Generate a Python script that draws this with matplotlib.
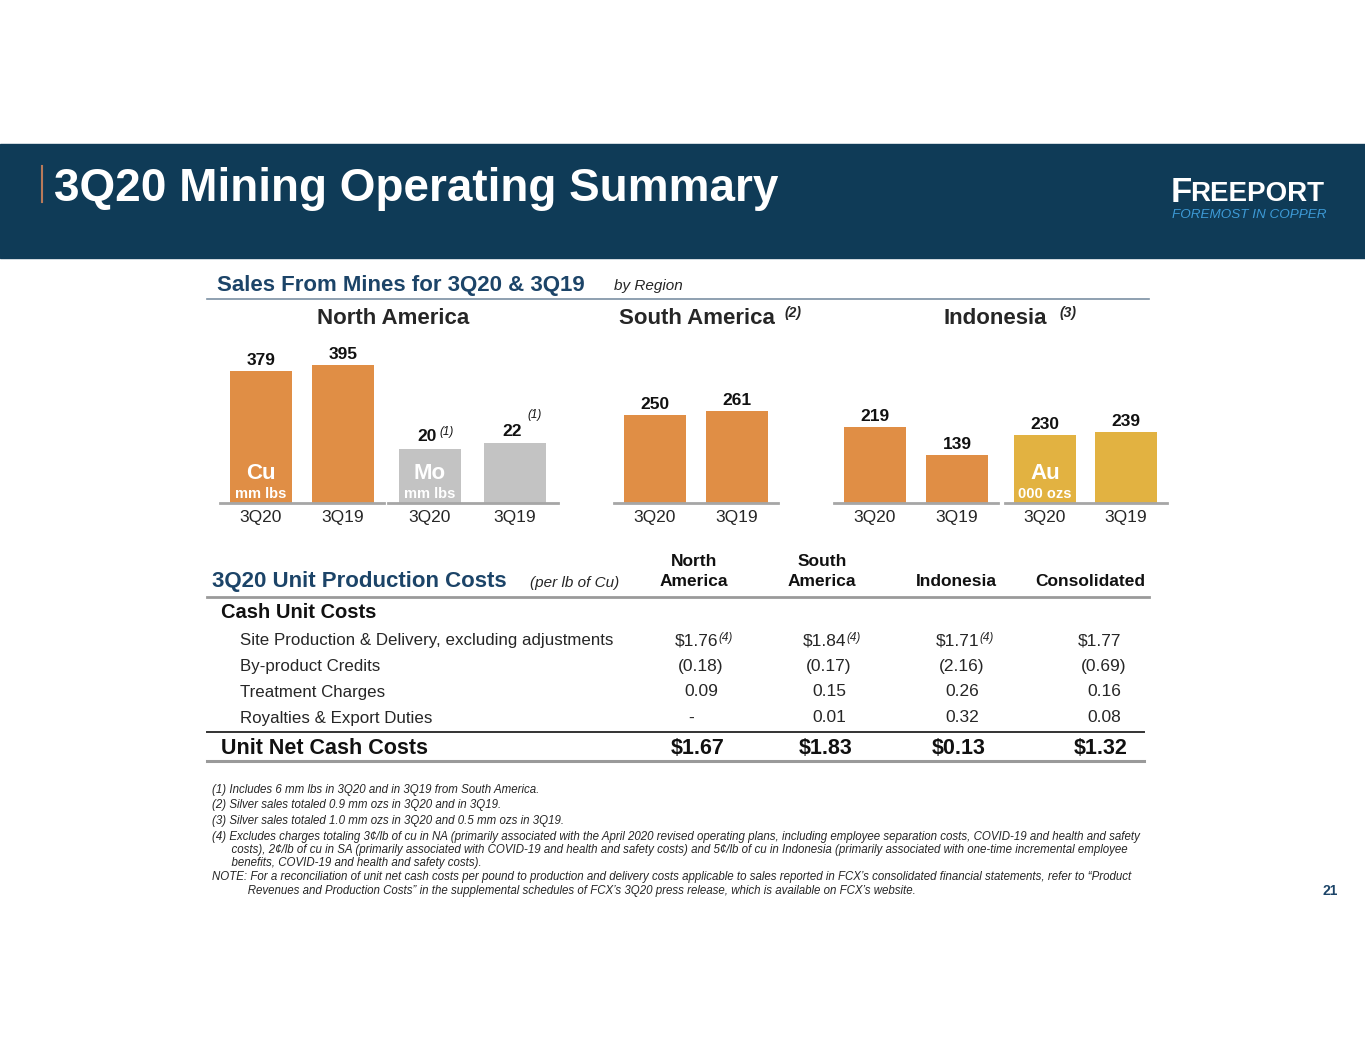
import matplotlib
matplotlib.use("Agg")
import matplotlib.pyplot as plt
from matplotlib.patches import Rectangle
from matplotlib.lines import Line2D

# ---- data ----
periods = ["3Q20", "3Q19"]
na_cu = [379, 395]
na_mo = [20, 22]
sa_cu = [250, 261]
id_cu = [219, 139]
id_au = [230, 239]

cost_cols = ["North\nAmerica", "South\nAmerica", "Indonesia", "Consolidated"]
cost_rows = ["Site Production & Delivery, excluding adjustments",
             "By-product Credits", "Treatment Charges", "Royalties & Export Duties"]
site_prod = [1.76, 1.84, 1.71, 1.77]
byproduct = [-0.18, -0.17, -2.16, -0.69]
treatment = [0.09, 0.15, 0.26, 0.16]
royalties = [0.00, 0.01, 0.32, 0.08]
unit_net = [1.67, 1.83, 0.13, 1.32]
site_note = ["(4)", "(4)", "(4)", ""]

footnotes = [
    "(1) Includes 6 mm lbs in 3Q20 and in 3Q19 from South America.",
    "(2) Silver sales totaled 0.9 mm ozs in 3Q20 and in 3Q19.",
    "(3) Silver sales totaled 1.0 mm ozs in 3Q20 and 0.5 mm ozs in 3Q19.",
    "(4) Excludes charges totaling 3\u00a2/lb of cu in NA (primarily associated with the April 2020 revised operating plans, including employee separation costs, COVID-19 and health and safety",
    "      costs), 2\u00a2/lb of cu in SA (primarily associated with COVID-19 and health and safety costs) and 5\u00a2/lb of cu in Indonesia (primarily associated with one-time incremental employee",
    "      benefits, COVID-19 and health and safety costs).",
    "NOTE: For a reconciliation of unit net cash costs per pound to production and delivery costs applicable to sales reported in FCX\u2019s consolidated financial statements, refer to \u201cProduct",
    "           Revenues and Production Costs\u201d in the supplemental schedules of FCX\u2019s 3Q20 press release, which is available on FCX\u2019s website.",
]

NAVY = "#0f3b57"
BLUE = "#1c4468"
CU = "#e08e45"
MO = "#c3c3c3"
AU = "#e2b241"
TXT = "#262626"

plt.rcParams["font.family"] = ["Liberation Sans", "DejaVu Sans"]

W, H = 1365, 1055
fig = plt.figure(figsize=(W / 100, H / 100), dpi=100)
fig.patch.set_facecolor("white")


def fx(x):
    return x / W


def fy(y):
    return 1 - y / H


def txt(x, y, s, **kw):
    kw.setdefault("va", "center")
    return fig.text(fx(x), fy(y), s, **kw)


def hline(x0, x1, y, color, lw):
    fig.add_artist(Line2D([fx(x0), fx(x1)], [fy(y), fy(y)], color=color, lw=lw,
                          transform=fig.transFigure))


# ---- header band ----
fig.add_artist(Rectangle((0, fy(258)), 1, (258 - 144) / H, color=NAVY,
                         transform=fig.transFigure, zorder=0))
fig.add_artist(Line2D([fx(42), fx(42)], [fy(166), fy(202)], color="#b87a5a", lw=1.5,
                      transform=fig.transFigure))
txt(54, 189, "3Q20 Mining Operating Summary", color="white", fontsize=33,
    fontweight="bold")
txt(1171, 193, "F", color="white", fontsize=25, fontweight="bold")
txt(1190, 194, "REEPORT", color="white", fontsize=20, fontweight="bold")
txt(1172, 215, "FOREMOST IN COPPER", color="#3d9ad6", fontsize=9.7, style="italic")

# ---- sales section ----
txt(217, 285, "Sales From Mines for 3Q20 & 3Q19", color=BLUE, fontsize=16,
    fontweight="bold")
txt(614, 286, "by Region", color=TXT, fontsize=11, style="italic")
hline(207, 1149, 299, "#7b90a3", 1.2)

txt(393, 318, "North America", color=TXT, fontsize=16, fontweight="bold", ha="center")
txt(697, 318, "South America", color=TXT, fontsize=16, fontweight="bold", ha="center")
txt(785, 313, "(2)", color=TXT, fontsize=10, style="italic", fontweight="bold")
txt(995, 318, "Indonesia", color=TXT, fontsize=16, fontweight="bold", ha="center")
txt(1060, 313, "(3)", color=TXT, fontsize=10, style="italic", fontweight="bold")

BASE = 503
TOP = 330


def bar_group(c0, step, vals, color, px_per_unit, labels=True):
    left = c0 - step / 2
    ax = fig.add_axes([fx(left), fy(BASE), 2 * step / W, (BASE - TOP) / H])
    ax.bar([0, 1], vals, width=62 / step, color=color)
    ax.set_xlim(-0.5, 1.5)
    ax.set_ylim(0, (BASE - TOP) / px_per_unit)
    for s in ["top", "right", "left"]:
        ax.spines[s].set_visible(False)
    ax.spines["bottom"].set_color("#a6a6a6")
    ax.spines["bottom"].set_linewidth(2)
    ax.set_yticks([])
    ax.set_xticks([0, 1], periods)
    ax.tick_params(axis="x", length=0, pad=5, labelsize=12.5, labelcolor=TXT)
    ax.patch.set_alpha(0)
    if labels:
        ax.bar_label(ax.containers[0], padding=2, fontsize=12.5, fontweight="bold",
                     color="#111111")
    return ax


def inner_label(ax, big, small):
    ax.annotate(big, xy=(0, 0), xytext=(0, 29 * 0.72), textcoords="offset points",
                ha="center", va="center", color="white", fontsize=16, fontweight="bold")
    ax.annotate(small, xy=(0, 0), xytext=(0, 9 * 0.72), textcoords="offset points",
                ha="center", va="center", color="white", fontsize=10.5, fontweight="bold")


ax1 = bar_group(261, 82, na_cu, CU, 0.349)
inner_label(ax1, "Cu", "mm lbs")
ax2 = bar_group(430, 85, na_mo, MO, 2.72, labels=False)
inner_label(ax2, "Mo", "mm lbs")
for i, v in enumerate(na_mo):
    ax2.annotate(str(v), xy=(i, v), xytext=(-2 if i else -2, 3), textcoords="offset points",
                 ha="center", va="bottom", fontsize=12.5, fontweight="bold", color="#111111")
ax2.annotate("(1)", xy=(0, na_mo[0]), xytext=(12, 12), textcoords="offset points",
             ha="center", va="center", fontsize=8.5, style="italic", color="#111111")
ax2.annotate("(1)", xy=(1, na_mo[1]), xytext=(14, 20), textcoords="offset points",
             ha="center", va="center", fontsize=8.5, style="italic", color="#111111")
ax3 = bar_group(655, 82, sa_cu, CU, 0.352)
ax4 = bar_group(875, 82, id_cu, CU, 0.347)
ax5 = bar_group(1045, 81, id_au, AU, 0.297)
inner_label(ax5, "Au", "000 ozs")

# ---- unit cost table ----
txt(212, 582, "3Q20 Unit Production Costs", color=BLUE, fontsize=16,
    fontweight="bold")
txt(530, 583, "(per lb of Cu)", color=TXT, fontsize=11, style="italic")

col_x = [701, 829, 962, 1104]
head_x = [694, 822, 956, 1090]
for hx, name in zip(head_x, cost_cols):
    lines = name.split("\n")
    for k, ln in enumerate(reversed(lines)):
        txt(hx, 582 - 20 * k, ln, color="#111111", fontsize=12.5, fontweight="bold",
            ha="center")
hline(207, 1149, 597, "#9a9a9a", 2)

txt(221, 613, "Cash Unit Costs", color="#111111", fontsize=14.5, fontweight="bold")


def fmt(v, dollar=False):
    if v == 0:
        return "-"
    s = f"{abs(v):.2f}"
    if dollar:
        s = "$" + s
    return f"({s})" if v < 0 else s


row_y = [641, 667, 692, 718]
row_vals = [site_prod, byproduct, treatment, royalties]
for ry, name, vals in zip(row_y, cost_rows, row_vals):
    txt(240, ry, name, color=TXT, fontsize=12.2)
    for j, (cx, v) in enumerate(zip(col_x, vals)):
        if vals is site_prod:
            txt(cx - 4, ry, fmt(v, True), color=TXT, fontsize=12.5, ha="center")
            if site_note[j]:
                txt(cx + 17, ry - 3, site_note[j], color=TXT, fontsize=8.5,
                    style="italic")
        else:
            txt(cx - (10 if v == 0 else 0), ry, fmt(v), color=TXT, fontsize=12.5,
                ha="center")

hline(207, 1144, 732, "#333333", 1.4)
txt(221, 748, "Unit Net Cash Costs", color="#111111", fontsize=15.5, fontweight="bold")
for cx, v in zip(col_x, unit_net):
    txt(cx - 3, 748, fmt(v, True), color="#111111", fontsize=15.5, fontweight="bold",
        ha="center")
hline(207, 1144, 761, "#9a9a9a", 2.2)

# ---- footnotes ----
foot_y = [790, 805, 821, 837, 850, 863, 877, 891]
for fy_, line in zip(foot_y, footnotes):
    txt(212, fy_, line, color=TXT, fontsize=8.3, style="italic")

txt(1330, 891, "21", color=BLUE, fontsize=10, fontweight="bold", ha="center")

fig.savefig("out.png", dpi=100)
